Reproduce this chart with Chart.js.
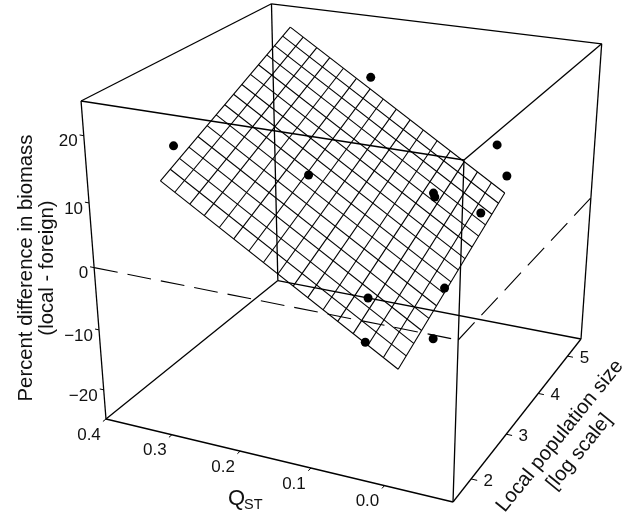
<!DOCTYPE html>
<html>
<head>
<meta charset="utf-8">
<title>Biomass difference</title>
<script src="https://cdn.jsdelivr.net/npm/chart.js@4/dist/chart.umd.min.js"></script>
<style>
  html, body { margin: 0; padding: 0; background: #fff; }
  canvas { display: block; }
</style>
</head>
<body>
<canvas id="chart" width="622" height="514"></canvas>
<script>
/* Data */
const pointQst = [0.327, 0.21, 0.209, 0.084, 0.082, 0.032, 0.016, 0.034, 0.035, 0.09, 0.02, 0.071];
const pointLogN = [2.21, 4.89, 3.31, 4.30, 4.30, 5.09, 5.09, 4.70, 3.70, 2.71, 3.11, 2.31];
const pointDiff = [16.6, 17.7, 9.0, 3.5, 2.9, 8.6, 3.7, -0.9, -8.0, -5.0, -12.5, -9.2];

const gridQst = [0.018, 0.038, 0.059, 0.079, 0.100, 0.120, 0.141, 0.161, 0.182, 0.202, 0.222, 0.243, 0.263, 0.284, 0.304, 0.325, 0.345];
const gridLogN = [2.16, 2.36, 2.55, 2.75, 2.94, 3.14, 3.34, 3.53, 3.73, 3.92, 4.12, 4.31, 4.51, 4.70, 4.90, 5.09];
const planeCoef = [-21.38, 68.65, 4.116];

const qstRange = [-0.09, 0.4];
const logNRange = [1.52, 5.49];
const diffRange = [-25, 25];

const qstTicks = [0.4, 0.3, 0.2, 0.1, 0.0];
const qstLabels = ['0.4', '0.3', '0.2', '0.1', '0.0'];
const logNTicks = [2, 3, 4, 5];
const logNLabels = ['2', '3', '4', '5'];
const diffTicks = [20, 10, 0, -10, -20];
const diffLabels = ['20', '10', '0', '\u221210', '\u221220'];

/* Perspective camera, fitted to the box corners */
const camOrigin = [453, 502];
const camU = [-337.04, -43.61];
const camV = [243.04, -95.88];
const camW = [-35.4, -358];
const camDepth = [0.094, 0.198, -0.1];

function project(q, n, z) {
  const u = (q - qstRange[0]) / (qstRange[1] - qstRange[0]);
  const v = (n - logNRange[0]) / (logNRange[1] - logNRange[0]);
  const w = (z - diffRange[0]) / (diffRange[1] - diffRange[0]);
  const d = 1 + camDepth[0] * u + camDepth[1] * v + camDepth[2] * w;
  return {
    x: (camOrigin[0] + camU[0] * u + camV[0] * v + camW[0] * w) / d,
    y: (camOrigin[1] + camU[1] * u + camV[1] * v + camW[1] * w) / d,
  };
}

function planeZ(q, n) {
  return planeCoef[0] + planeCoef[1] * q + planeCoef[2] * n;
}

function lineSet(points, width, dash) {
  return {
    type: 'scatter',
    data: points,
    showLine: true,
    fill: false,
    borderColor: '#000',
    borderWidth: width,
    borderDash: dash || [],
    pointRadius: 0,
    tension: 0,
  };
}

const datasets = [];

// regression surface
gridQst.forEach(q => {
  const a = gridLogN[0], b = gridLogN[gridLogN.length - 1];
  datasets.push(lineSet([project(q, a, planeZ(q, a)), project(q, b, planeZ(q, b))], 1.1));
});
gridLogN.forEach(n => {
  const a = gridQst[0], b = gridQst[gridQst.length - 1];
  datasets.push(lineSet([project(a, n, planeZ(a, n)), project(b, n, planeZ(b, n))], 1.1));
});

// box edges
const [qLo, qHi] = qstRange, [nLo, nHi] = logNRange, [zLo, zHi] = diffRange;
const boxEdges = [
  [[qHi, nLo, zHi], [qHi, nHi, zHi]], [[qHi, nHi, zHi], [qLo, nHi, zHi]],
  [[qLo, nHi, zHi], [qLo, nLo, zHi]], [[qLo, nLo, zHi], [qHi, nLo, zHi]],
  [[qHi, nLo, zLo], [qHi, nHi, zLo]], [[qHi, nHi, zLo], [qLo, nHi, zLo]],
  [[qLo, nHi, zLo], [qLo, nLo, zLo]], [[qLo, nLo, zLo], [qHi, nLo, zLo]],
  [[qHi, nLo, zLo], [qHi, nLo, zHi]], [[qHi, nHi, zLo], [qHi, nHi, zHi]],
  [[qLo, nHi, zLo], [qLo, nHi, zHi]], [[qLo, nLo, zLo], [qLo, nLo, zHi]],
];
boxEdges.forEach(e => datasets.push(lineSet([project(...e[0]), project(...e[1])], 1.3)));

// zero reference, dashed
datasets.push(lineSet([project(qHi, nLo, 0), project(qLo, nLo, 0)], 1.1, [24, 10]));
datasets.push(lineSet([project(qLo, nLo, 0), project(qLo, nHi, 0)], 1.1, [24, 10]));

// tick marks
qstTicks.forEach(q => datasets.push(lineSet([project(q, nLo, zLo), project(q, nLo - 0.06, zLo)], 1)));
logNTicks.forEach(n => datasets.push(lineSet([project(qLo, n, zLo), project(qLo - 0.008, n, zLo)], 1)));
diffTicks.forEach(z => datasets.push(lineSet([project(qHi, nLo, z), project(qHi + 0.006, nLo, z)], 1)));

// observations
datasets.push({
  type: 'scatter',
  data: pointQst.map((q, i) => project(q, pointLogN[i], pointDiff[i])),
  pointRadius: 4.5,
  pointBackgroundColor: '#000',
  pointBorderWidth: 0,
  showLine: false,
});

const labelPlugin = {
  id: 'boxLabels',
  afterDraw(chart) {
    const ctx = chart.ctx;
    const sx = chart.scales.x, sy = chart.scales.y;
    ctx.save();
    ctx.fillStyle = '#111';
    ctx.textBaseline = 'middle';
    ctx.font = '17px "Liberation Sans", Arial, sans-serif';

    ctx.textAlign = 'center';
    qstTicks.forEach((q, i) => {
      const p = project(q, nLo, zLo);
      ctx.fillText(qstLabels[i], sx.getPixelForValue(p.x) - 17, sy.getPixelForValue(p.y) + 16);
    });
    logNTicks.forEach((n, i) => {
      const p = project(qLo, n, zLo);
      ctx.fillText(logNLabels[i], sx.getPixelForValue(p.x) + 17, sy.getPixelForValue(p.y) + 2);
    });
    ctx.textAlign = 'right';
    diffTicks.forEach((z, i) => {
      const p = project(qHi, nLo, z);
      ctx.fillText(diffLabels[i], sx.getPixelForValue(p.x) - 6, sy.getPixelForValue(p.y) + 6);
    });

    // axis titles
    ctx.textAlign = 'center';
    ctx.font = '20.3px "Liberation Sans", Arial, sans-serif';
    ctx.save();
    ctx.translate(26, 268);
    ctx.rotate(-Math.PI / 2);
    ctx.fillText('Percent difference in biomass', 0, 0);
    ctx.fillText('(local - foreign)', 0, 21);
    ctx.restore();

    ctx.save();
    ctx.translate(560, 436);
    ctx.rotate(-51 * Math.PI / 180);
    ctx.fillText('Local population size', 0, 0);
    ctx.fillText('[log scale]', 0, 25);
    ctx.restore();

    ctx.textAlign = 'left';
    ctx.textBaseline = 'alphabetic';
    ctx.font = '22px "Liberation Sans", Arial, sans-serif';
    ctx.fillText('Q', 228, 505);
    ctx.font = '14.5px "Liberation Sans", Arial, sans-serif';
    ctx.fillText('ST', 244, 509);
    ctx.restore();
  }
};

new Chart(document.getElementById('chart'), {
  type: 'scatter',
  data: { datasets },
  options: {
    responsive: false,
    animation: false,
    layout: { padding: 0, autoPadding: false },
    plugins: { legend: { display: false }, tooltip: { enabled: false } },
    scales: {
      x: { type: 'linear', min: 0, max: 622, display: false },
      y: { type: 'linear', min: 0, max: 514, reverse: true, display: false },
    },
  },
  plugins: [labelPlugin],
});
</script>
</body>
</html>
